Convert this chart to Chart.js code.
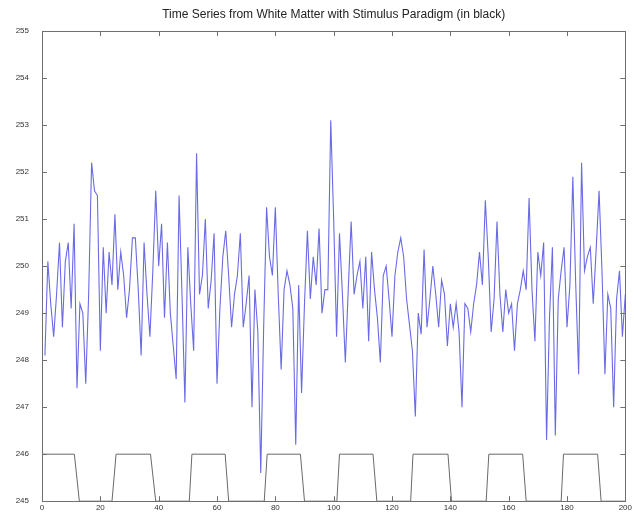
<!DOCTYPE html>
<html>
<head>
<meta charset="utf-8">
<script src="https://cdn.jsdelivr.net/npm/chart.js@4"></script>
<style>
  html, body { margin: 0; padding: 0; background: #fff; }
  #wrap { width: 634px; height: 519px; }
</style>
</head>
<body>
<div id="wrap"><canvas id="ts"></canvas></div>
<script>
// white matter voxel intensity, one value per scan (scans 1..200)
const signal = [
  248.1, 250.1, 249.2, 248.5, 249.4, 250.5, 248.7, 250.1, 250.5, 249.1,
  250.9, 247.4, 249.2, 249.0, 247.5, 249.4, 252.2, 251.6, 251.5, 248.2,
  250.4, 249.0, 250.3, 249.6, 251.1, 249.5, 250.3, 249.8, 248.9, 249.5,
  250.6, 250.6, 249.5, 248.1, 250.5, 249.4, 248.5, 249.9, 251.6, 250.0,
  250.9, 248.9, 250.5, 249.0, 248.3, 247.6, 251.5, 249.4, 247.1, 250.4,
  249.2, 248.2, 252.4, 249.4, 249.8, 251.0, 249.1, 249.7, 250.7, 247.5,
  249.1, 250.2, 250.75, 249.8, 248.7, 249.4, 249.8, 250.7, 248.7, 249.2,
  249.8, 247.0, 249.5, 248.6, 245.6, 248.7, 251.25, 250.2, 249.8, 251.25,
  249.4, 247.8, 249.5, 249.9, 249.6, 249.1, 246.2, 249.6, 247.3, 249.2,
  250.75, 249.3, 250.2, 249.6, 250.8, 249.0, 249.5, 249.5, 253.1, 251.0,
  248.5, 250.7, 249.4, 247.95, 249.5, 250.95, 249.4, 249.8, 250.1, 249.1,
  250.2, 248.4, 250.3, 249.5, 248.9, 247.95, 249.8, 250.0, 249.3, 248.5,
  249.8, 250.3, 250.6, 250.2, 249.3, 248.75, 248.2, 246.8, 249.0, 248.55,
  250.35, 248.7, 249.3, 250.0, 249.4, 248.7, 249.7, 249.4, 248.3, 249.2,
  248.7, 249.2, 248.6, 247.0, 249.2, 249.1, 248.6, 249.2, 249.6, 250.3,
  249.6, 251.4, 250.2, 248.6, 249.3, 250.95, 249.4, 248.6, 249.5, 249.0,
  249.2, 248.2, 249.2, 249.5, 249.9, 249.5, 251.45, 249.5, 248.4, 250.3,
  249.8, 250.5, 246.3, 248.9, 250.4, 246.4, 249.3, 249.9, 250.4, 248.7,
  249.6, 251.9, 249.6, 247.7, 252.2, 249.9, 250.2, 250.4, 249.2, 250.35,
  251.6, 249.9, 247.7, 249.4, 249.1, 247.0, 249.3, 249.9, 248.5, 249.4
];

// stimulus paradigm (on = 246, off = 245), corner points of each block
const stimX = [
  0, 11.1, 12.8,
  24.0, 25.4, 37.2, 39.0,
  50.5, 51.4, 62.8, 64.0,
  76.2, 77.2, 88.6, 90.0,
  101.1, 102.0, 113.5, 114.8,
  126.4, 127.2, 139.2, 140.4,
  152.3, 153.2, 164.8, 166.0,
  178.0, 178.8, 190.5, 191.7,
  200
];
const stimY = [
  246, 246, 245,
  245, 246, 246, 245,
  245, 246, 246, 245,
  245, 246, 246, 245,
  245, 246, 246, 245,
  245, 246, 246, 245,
  245, 246, 246, 245,
  245, 246, 246, 245,
  245
];

const xTicks = [0, 20, 40, 60, 80, 100, 120, 140, 160, 180, 200];
const yTicks = [245, 246, 247, 248, 249, 250, 251, 252, 253, 254, 255];
const titleText = 'Time Series from White Matter with Stimulus Paradigm (in black)';

const signalPts = signal.map((v, i) => ({ x: i + 1, y: v }));
const stimPts = stimX.map((x, i) => ({ x: x, y: stimY[i] }));

const axisColor = '#6f6f6f';
const fontFamily = 'Liberation Sans, Arial, sans-serif';

// box around the plot with ticks pointing inward on all four sides,
// plus the title centred over the plot box
const boxTicks = {
  id: 'boxTicks',
  afterDatasetsDraw(chart) {
    const { ctx, chartArea: a, scales } = chart;
    const len = 5;
    ctx.save();
    ctx.strokeStyle = axisColor;
    ctx.lineWidth = 1;
    ctx.beginPath();
    xTicks.forEach(v => {
      const px = Math.round(scales.x.getPixelForValue(v)) + 0.5;
      ctx.moveTo(px, a.bottom); ctx.lineTo(px, a.bottom - len);
      ctx.moveTo(px, a.top); ctx.lineTo(px, a.top + len);
    });
    yTicks.forEach(v => {
      const py = Math.round(scales.y.getPixelForValue(v)) + 0.5;
      ctx.moveTo(a.left, py); ctx.lineTo(a.left + len, py);
      ctx.moveTo(a.right, py); ctx.lineTo(a.right - len, py);
    });
    ctx.stroke();
    ctx.strokeRect(Math.round(a.left) + 0.5, Math.round(a.top) + 0.5,
      Math.round(a.right - a.left), Math.round(a.bottom - a.top));

    ctx.fillStyle = '#222';
    ctx.font = '12px ' + fontFamily;
    ctx.textAlign = 'center';
    ctx.textBaseline = 'middle';
    ctx.fillText(titleText, (a.left + a.right) / 2, 15);
    ctx.restore();
  }
};

new Chart(document.getElementById('ts'), {
  type: 'line',
  data: {
    datasets: [
      {
        label: 'White matter',
        data: signalPts,
        borderColor: '#6a6ae6',
        borderWidth: 1.1,
        pointRadius: 0,
        tension: 0
      },
      {
        label: 'Stimulus',
        data: stimPts,
        borderColor: '#6a6a6a',
        borderWidth: 1,
        pointRadius: 0,
        tension: 0
      }
    ]
  },
  options: {
    responsive: true,
    maintainAspectRatio: false,
    animation: false,
    layout: { padding: { left: 0, right: 8, top: 31, bottom: 0 } },
    plugins: {
      legend: { display: false },
      tooltip: { enabled: false },
      title: { display: false }
    },
    scales: {
      x: {
        type: 'linear',
        min: 0,
        max: 200,
        afterBuildTicks: s => { s.ticks = xTicks.map(v => ({ value: v })); },
        afterFit: s => { s.height = 12; },
        grid: { display: false, drawTicks: false },
        border: { display: false },
        ticks: {
          padding: 2,
          maxRotation: 0,
          autoSkip: false,
          color: '#333',
          font: { family: fontFamily, size: 8 }
        }
      },
      y: {
        type: 'linear',
        min: 245,
        max: 255,
        afterBuildTicks: s => { s.ticks = yTicks.map(v => ({ value: v })); },
        afterFit: s => { s.width = 42; },
        grid: { display: false, drawTicks: false },
        border: { display: false },
        ticks: {
          padding: 13,
          autoSkip: false,
          color: '#333',
          font: { family: fontFamily, size: 8 }
        }
      }
    }
  },
  plugins: [boxTicks]
});
</script>
</body>
</html>
